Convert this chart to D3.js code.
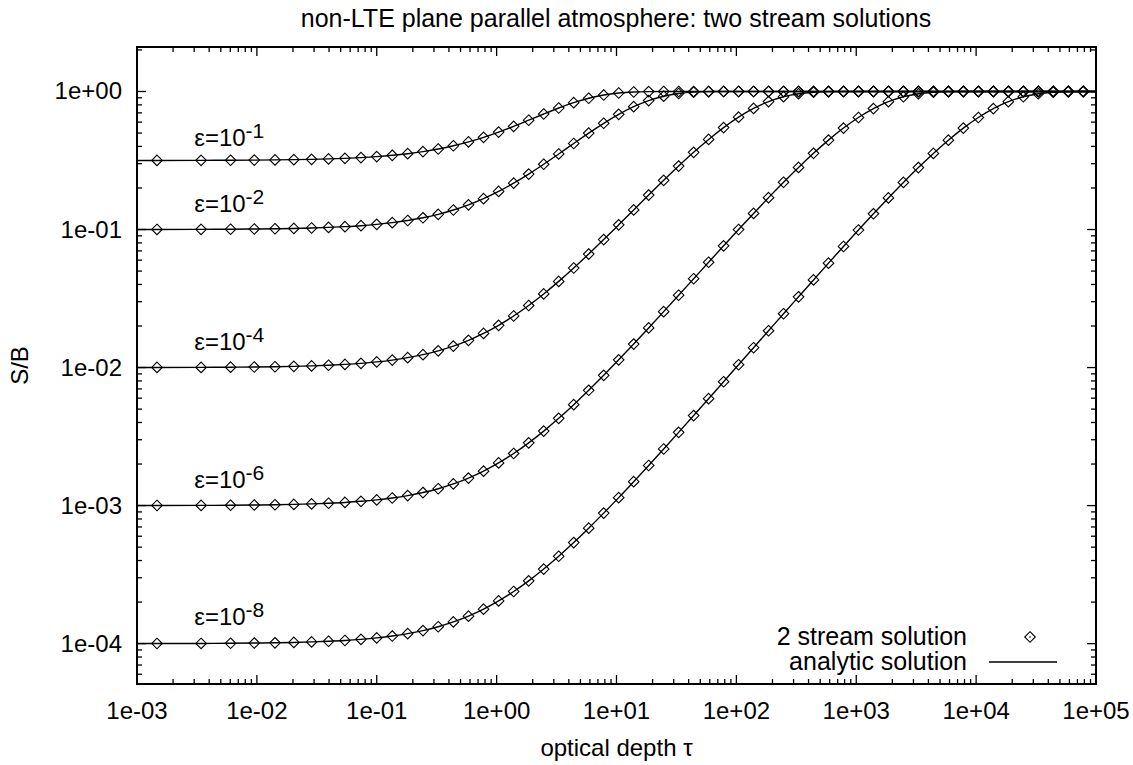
<!DOCTYPE html>
<html>
  <head>
    <meta charset="utf-8">
    <title>non-LTE two stream</title>
    <script src="https://cdnjs.cloudflare.com/ajax/libs/d3/7.8.5/d3.min.js"></script>
    <style>
      html, body { margin: 0; padding: 0; background: #fff; overflow: hidden; }
      svg { display: block; width: 100vw; height: 100vh; }
      text { font-family: "Liberation Sans", Arial, Helvetica, sans-serif; fill: #000; }
    </style>
  </head>
  <body>
    <script type="text/javascript">

    // optical depth of the 2 stream grid points
    let tau = [0.001468, 0.003424, 0.006034, 0.009514, 0.01416, 0.02034, 0.02860, 0.03960, 0.05428, 0.07384,
      0.09994, 0.1347, 0.1812, 0.2430, 0.3256, 0.4356, 0.5824, 0.7780, 1.039, 1.387,
      1.851, 2.470, 3.295, 4.396, 5.863, 7.820, 10.43, 13.91, 18.55, 24.74,
      32.99, 44.00, 58.67, 78.24, 104.3, 139.1, 185.5, 247.4, 330.0, 440.0,
      586.8, 782.4, 1043, 1391, 1855, 2474, 3300, 4400, 5868, 7824,
      10434, 13914, 18555, 24743, 32995, 44000, 58675, 78244]

    // S/B for each epsilon
    let sbEps1 = [0.3166, 0.3170, 0.3175, 0.3183, 0.3193, 0.3206, 0.3224, 0.3247, 0.3279, 0.3320,
      0.3375, 0.3448, 0.3543, 0.3668, 0.3831, 0.4042, 0.4312, 0.4654, 0.5077, 0.5590,
      0.6192, 0.6869, 0.7588, 0.8297, 0.8929, 0.9423, 0.9747, 0.9916, 0.9981, 0.9997,
      1, 1, 1, 1, 1, 1, 1, 1, 1, 1,
      1, 1, 1, 1, 1, 1, 1, 1, 1, 1,
      1, 1, 1, 1, 1, 1, 1, 1]
    let sbEps2 = [0.1001, 0.1003, 0.1005, 0.1009, 0.1013, 0.1018, 0.1026, 0.1036, 0.1049, 0.1066,
      0.1090, 0.1121, 0.1162, 0.1216, 0.1288, 0.1384, 0.1509, 0.1674, 0.1888, 0.2166,
      0.2521, 0.2970, 0.3527, 0.4201, 0.4993, 0.5883, 0.6829, 0.7761, 0.8592, 0.9242,
      0.9668, 0.9890, 0.9975, 0.9996, 1, 1, 1, 1, 1, 1,
      1, 1, 1, 1, 1, 1, 1, 1, 1, 1,
      1, 1, 1, 1, 1, 1, 1, 1]
    let sbEps4 = [0.01002, 0.01003, 0.01006, 0.01009, 0.01014, 0.01020, 0.01028, 0.01039, 0.01054, 0.01073,
      0.01099, 0.01133, 0.01179, 0.01240, 0.01322, 0.01430, 0.01575, 0.01767, 0.02023, 0.02364,
      0.02816, 0.03415, 0.04209, 0.05261, 0.06641, 0.08451, 0.1081, 0.1386, 0.1777, 0.2270,
      0.2882, 0.3624, 0.4494, 0.5473, 0.6513, 0.7538, 0.8452, 0.9166, 0.9635, 0.9879,
      0.9972, 0.9996, 1, 1, 1, 1, 1, 1, 1, 1,
      1, 1, 1, 1, 1, 1, 1, 1]
    let sbEps6 = [0.001002, 0.001003, 0.001006, 0.001010, 0.001014, 0.001020, 0.001029, 0.001040, 0.001054, 0.001074,
      0.001100, 0.001135, 0.001181, 0.001243, 0.001325, 0.001435, 0.001582, 0.001777, 0.002037, 0.002385,
      0.002848, 0.003464, 0.004286, 0.005386, 0.006844, 0.008786, 0.01137, 0.01480, 0.01936, 0.02541,
      0.03342, 0.04400, 0.05793, 0.07618, 0.09998, 0.1308, 0.1702, 0.2200, 0.2818, 0.3566,
      0.4444, 0.5432, 0.6481, 0.7515, 0.8438, 0.9159, 0.9632, 0.9877, 0.9972, 0.9996,
      1, 1, 1, 1, 1, 1, 1, 1]
    let sbEps8 = [0.0001002, 0.0001003, 0.0001006, 0.0001010, 0.0001014, 0.0001020, 0.0001029, 0.0001040, 0.0001054, 0.0001074,
      0.0001100, 0.0001135, 0.0001181, 0.0001243, 0.0001326, 0.0001436, 0.0001582, 0.0001778, 0.0002039, 0.0002387,
      0.0002851, 0.0003469, 0.0004294, 0.0005398, 0.0006865, 0.0008820, 0.001142, 0.001490, 0.001953, 0.002571,
      0.003393, 0.004490, 0.005949, 0.007893, 0.01048, 0.01392, 0.01848, 0.02454, 0.03255, 0.04314,
      0.05708, 0.07535, 0.09917, 0.1300, 0.1694, 0.2193, 0.2811, 0.3560, 0.4439, 0.5428,
      0.6478, 0.7513, 0.8437, 0.9158, 0.9631, 0.9877, 0.9972, 0.9996]

    let epsExponents = ["-1", "-2", "-4", "-6", "-8"]
    let epsLabelY = [0.40, 0.133, 0.0133, 0.00135, 0.000137]
    let epsLabelTau = 0.003

    let xTicks = [1e-3, 1e-2, 1e-1, 1, 1e1, 1e2, 1e3, 1e4, 1e5]
    let xTickLabels = ["1e-03", "1e-02", "1e-01", "1e+00", "1e+01", "1e+02", "1e+03", "1e+04", "1e+05"]
    let yTicks = [1, 1e-1, 1e-2, 1e-3, 1e-4]
    let yTickLabels = ["1e+00", "1e-01", "1e-02", "1e-03", "1e-04"]

    let outerWidth = 1133
    let outerHeight = 765
    let margin = { left: 137, top: 47, right: 37, bottom: 81 }
    let innerWidth = outerWidth - margin.left - margin.right
    let innerHeight = outerHeight - margin.top - margin.bottom
    let fontSize = 24
    let bigFont = 25

    let svg = d3.select("body").append("svg")
      .attr("viewBox", "0 0 " + outerWidth + " " + outerHeight)

    let g = svg.append("g")
      .attr("transform", "translate(" + margin.left + "," + margin.top + ")")

    let xScale = d3.scaleLog().domain([1e-3, 1e5]).range([0, innerWidth])
    let yScale = d3.scaleLog().domain([5.1e-5, 2.1]).range([innerHeight, 0])

    let allSeries = [sbEps1, sbEps2, sbEps4, sbEps6, sbEps8]

    // analytic curves
    let line = d3.line()
      .x(d => xScale(d[0]))
      .y(d => yScale(d[1]))
      .curve(d3.curveMonotoneX)

    allSeries.forEach(function (vals) {
      let pts = tau.map((t, i) => [t, vals[i]])
      pts.unshift([1e-3, vals[0]])
      pts.push([1e5, vals[vals.length - 1]])
      g.append("path")
        .attr("d", line(pts))
        .attr("fill", "none")
        .attr("stroke", "#000")
        .attr("stroke-width", 1.4)
    })

    // 2 stream points
    let r = 5.3
    let diamond = "M0," + (-r) + "L" + r + ",0L0," + r + "L" + (-r) + ",0Z"
    allSeries.forEach(function (vals) {
      g.append("g").selectAll("path")
        .data(tau.map((t, i) => [t, vals[i]]))
        .enter().append("path")
        .attr("d", diamond)
        .attr("transform", d => "translate(" + xScale(d[0]) + "," + yScale(d[1]) + ")")
        .attr("fill", "none")
        .attr("stroke", "#000")
        .attr("stroke-width", 1.1)
    })

    // epsilon labels
    epsExponents.forEach(function (ex, i) {
      let t = g.append("text")
        .attr("x", xScale(epsLabelTau))
        .attr("y", yScale(epsLabelY[i]))
        .style("font-size", fontSize + "px")
      t.append("tspan").text("\u03b5=10")
      t.append("tspan").attr("dy", -8).style("font-size", "21px").text(ex)
    })

    // ticks, mirrored on all four sides, pointing inward
    let isMajor = v => Math.abs(Math.log10(v) - Math.round(Math.log10(v))) < 1e-6
    let xMinor = xScale.ticks().filter(v => v > 1e-3 && v < 1e5)
    let yMinor = yScale.ticks().filter(v => v > 5.1e-5 && v < 2.1)
    let ticks = g.append("g").attr("stroke", "#000").attr("stroke-width", 1.3)
    xMinor.forEach(function (v) {
      let len = isMajor(v) ? 9 : 5
      let x = xScale(v)
      ticks.append("line").attr("x1", x).attr("x2", x).attr("y1", innerHeight).attr("y2", innerHeight - len)
      ticks.append("line").attr("x1", x).attr("x2", x).attr("y1", 0).attr("y2", len)
    })
    yMinor.forEach(function (v) {
      let len = isMajor(v) ? 9 : 5
      let y = yScale(v)
      ticks.append("line").attr("x1", 0).attr("x2", len).attr("y1", y).attr("y2", y)
      ticks.append("line").attr("x1", innerWidth).attr("x2", innerWidth - len).attr("y1", y).attr("y2", y)
    })

    // frame
    g.append("rect")
      .attr("width", innerWidth)
      .attr("height", innerHeight)
      .attr("fill", "none")
      .attr("stroke", "#000")
      .attr("stroke-width", 2)

    // tick labels
    g.append("g").selectAll("text")
      .data(xTicks)
      .enter().append("text")
      .attr("x", d => xScale(d))
      .attr("y", innerHeight + 35)
      .attr("text-anchor", "middle")
      .style("font-size", fontSize + "px")
      .text((d, i) => xTickLabels[i])

    g.append("g").selectAll("text")
      .data(yTicks)
      .enter().append("text")
      .attr("x", -15)
      .attr("y", d => yScale(d) + 8)
      .attr("text-anchor", "end")
      .style("font-size", fontSize + "px")
      .text((d, i) => yTickLabels[i])

    // titles
    svg.append("text")
      .attr("x", 616)
      .attr("y", 27)
      .attr("text-anchor", "middle")
      .style("font-size", bigFont + "px")
      .text("non-LTE plane parallel atmosphere: two stream solutions")

    svg.append("text")
      .attr("x", margin.left + innerWidth / 2)
      .attr("y", 756)
      .attr("text-anchor", "middle")
      .style("font-size", fontSize + "px")
      .text("optical depth \u03c4")

    svg.append("text")
      .attr("transform", "translate(28," + (margin.top + innerHeight / 2) + ") rotate(-90)")
      .attr("text-anchor", "middle")
      .style("font-size", fontSize + "px")
      .text("S/B")

    // legend
    let legend = svg.append("g")
    legend.append("text")
      .attr("x", 967).attr("y", 645)
      .attr("text-anchor", "end")
      .style("font-size", bigFont + "px")
      .text("2 stream solution")
    legend.append("path")
      .attr("d", diamond)
      .attr("transform", "translate(1030,637)")
      .attr("fill", "none")
      .attr("stroke", "#000")
      .attr("stroke-width", 1.1)
    legend.append("circle")
      .attr("cx", 1030).attr("cy", 637).attr("r", 0.8)
      .attr("fill", "#000")
    legend.append("text")
      .attr("x", 967).attr("y", 670)
      .attr("text-anchor", "end")
      .style("font-size", bigFont + "px")
      .text("analytic solution")
    legend.append("line")
      .attr("x1", 989).attr("x2", 1057)
      .attr("y1", 662).attr("y2", 662)
      .attr("stroke", "#000")
      .attr("stroke-width", 1.4)

    </script>
  </body>
</html>
